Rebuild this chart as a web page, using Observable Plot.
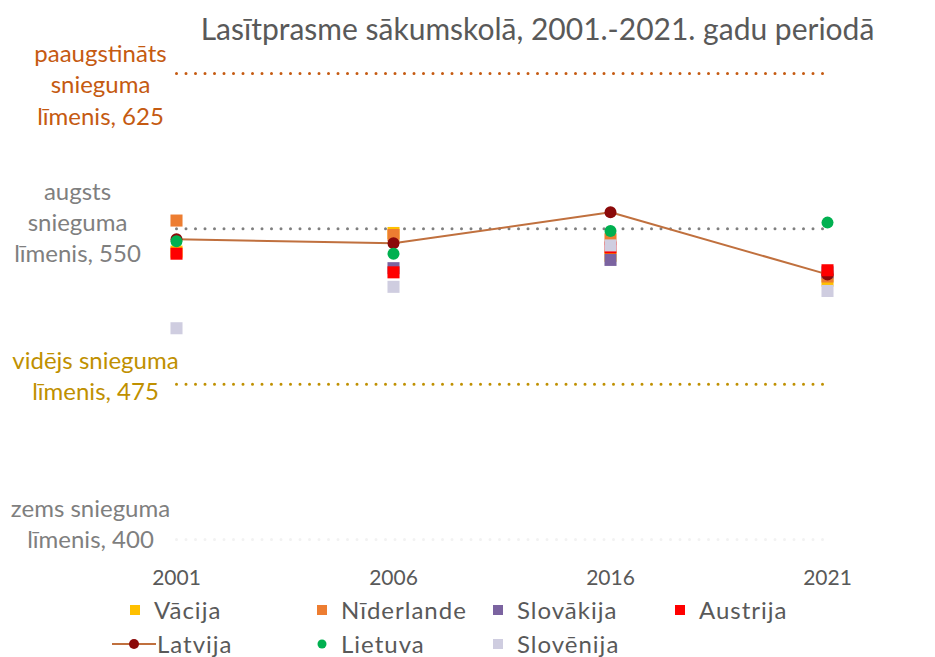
<!DOCTYPE html>
<html>
<head>
<meta charset="utf-8">
<script src="https://cdn.jsdelivr.net/npm/d3@7"></script>
<script src="https://cdn.jsdelivr.net/npm/@observablehq/plot@0.6"></script>
<style>
  body { margin: 0; background: #fff; font-family: Lato, "Open Sans", sans-serif; }
  #wrap { position: relative; width: 935px; height: 657px; overflow: hidden; }
  #title { position: absolute; top: 10px; left: 140px; width: 795px; text-align: center; font-size: 30px; color: #595959; }
  #chart { position: absolute; top: 52px; left: 0; }
  .lg { position: absolute; font-size: 24px; letter-spacing: 1px; color: #595959; white-space: nowrap; line-height: 26px; }
</style>
</head>
<body>
<div id="wrap">
  <div id="title">Lasītprasme sākumskolā, 2001.-2021. gadu periodā</div>
  <div id="chart"></div>
</div>
<script>
// ---- data ----
const years = ["2001", "2006", "2016", "2021"];
const vacija     = [539, 548, 537, 525];
const niderlande = [554, 547, 545, 527];
const slovakija  = [null, 531, 535, 529];
const austrija   = [538, 529, 541, 530];
const latvija    = [545, 543, 558, 528];
const lietuva    = [544, 538, 549, 553];
const slovenija  = [502, 522, 542, 520];

const levelValues = [625, 550, 475, 400];
const levelLabels = [
  "paaugstināts\nsnieguma\nlīmenis, 625",
  "augsts\nsnieguma\nlīmenis, 550",
  "vidējs snieguma\nlīmenis, 475",
  "zems snieguma\nlīmenis, 400"
];

// ---- styling ----
const seriesDefs = [
  {name: "Vācija", values: vacija, color: "#FFC000", shape: "square"},
  {name: "Nīderlande", values: niderlande, color: "#ED7D31", shape: "square"},
  {name: "Slovākija", values: slovakija, color: "#7B63A0", shape: "square"},
  {name: "Latvija", values: latvija, color: "#8B0A0A", shape: "line"},
  {name: "Austrija", values: austrija, color: "#FF0000", shape: "square"},
  {name: "Lietuva", values: lietuva, color: "#00B050", shape: "circle"},
  {name: "Slovēnija", values: slovenija, color: "#CFCDE0", shape: "square"}
];
const levelStyle = {
  625: {color: "#C55A11", line: "#C55A11", dx: 100, dy: 10},
  550: {color: "#7F7F7F", line: "#7F7F7F", dx: 77, dy: -8},
  475: {color: "#BF9000", line: "#BF9000", dx: 95, dy: -10},
  400: {color: "#7F7F7F", line: "#F2F2F2", dx: 90, dy: -17}
};

const toRows = (s) => years.map((y, i) => ({year: y, v: s.values[i], name: s.name})).filter(d => d.v != null);

const marks = [];
// reference level lines
for (const lv of levelValues) {
  marks.push(Plot.line(years.map(y => ({year: y, v: lv})), {
    x: "year", y: "v", stroke: levelStyle[lv].line, strokeWidth: 3,
    strokeDasharray: "0 9.5", strokeLinecap: "round"
  }));
}
// level labels (y axis tick labels)
for (let i = 0; i < levelValues.length; i++) {
  const v = levelValues[i];
  marks.push(Plot.text([{v, label: levelLabels[i]}], {
    y: "v", text: "label", frameAnchor: "left",
    dx: levelStyle[v].dx, dy: levelStyle[v].dy,
    fontSize: 24, lineHeight: 1.3, textAnchor: "middle", fill: levelStyle[v].color
  }));
}
// series
for (const s of seriesDefs) {
  const rows = toRows(s);
  if (s.shape === "line") {
    marks.push(Plot.line(rows, {x: "year", y: "v", stroke: "#C0703E", strokeWidth: 2}));
    marks.push(Plot.dot(rows, {x: "year", y: "v", r: 6, fill: s.color, stroke: "none"}));
  } else if (s.shape === "circle") {
    marks.push(Plot.dot(rows, {x: "year", y: "v", r: 6, fill: s.color, stroke: "none"}));
  } else {
    marks.push(Plot.dot(rows, {x: "year", y: "v", r: 6.8, symbol: "square", fill: s.color, stroke: "none"}));
  }
}
marks.push(Plot.axisX({anchor: "bottom", tickSize: 0, tickPadding: 31, fontSize: 21, fill: "#595959", label: null}));

const chart = Plot.plot({
  width: 935,
  height: 548,
  marginLeft: 0, marginRight: 0, marginTop: 0, marginBottom: 61,
  style: {fontFamily: "Lato, 'Open Sans', sans-serif", background: "white", overflow: "visible"},
  x: {type: "point", domain: years, range: [175, 828], padding: 0, axis: null, label: null},
  y: {domain: [400, 625], range: [487, 21], axis: null},
  marks
});
document.getElementById("chart").appendChild(chart);

// legend
const legendPos = [
  {name: "Vācija", x: 128, y: 594},
  {name: "Nīderlande", x: 315, y: 594},
  {name: "Slovākija", x: 491, y: 594},
  {name: "Austrija", x: 673, y: 594},
  {name: "Latvija", x: 112, y: 628},
  {name: "Lietuva", x: 315, y: 628},
  {name: "Slovēnija", x: 491, y: 628}
];
const wrap = document.getElementById("wrap");
for (const p of legendPos) {
  const s = seriesDefs.find(d => d.name === p.name);
  const el = document.createElement("div");
  el.className = "lg";
  el.style.left = p.x + "px";
  el.style.top = p.y + "px";
  let sym;
  if (s.shape === "square") {
    sym = `<svg width="22" height="24" style="vertical-align:middle"><rect x="2" y="7" width="10" height="10" fill="${s.color}"/></svg>`;
  } else if (s.shape === "circle") {
    sym = `<svg width="22" height="24" style="vertical-align:middle"><circle cx="7" cy="12" r="4.5" fill="${s.color}"/></svg>`;
  } else {
    sym = `<svg width="44" height="24" style="vertical-align:middle"><line x1="0" y1="12" x2="44" y2="12" stroke="#C0703E" stroke-width="2"/><circle cx="22" cy="12" r="5" fill="${s.color}"/></svg>`;
  }
  el.innerHTML = sym + `<span style="vertical-align:middle;margin-left:${s.shape === 'line' ? 1 : 4}px">${s.name}</span>`;
  wrap.appendChild(el);
}
</script>
</body>
</html>
